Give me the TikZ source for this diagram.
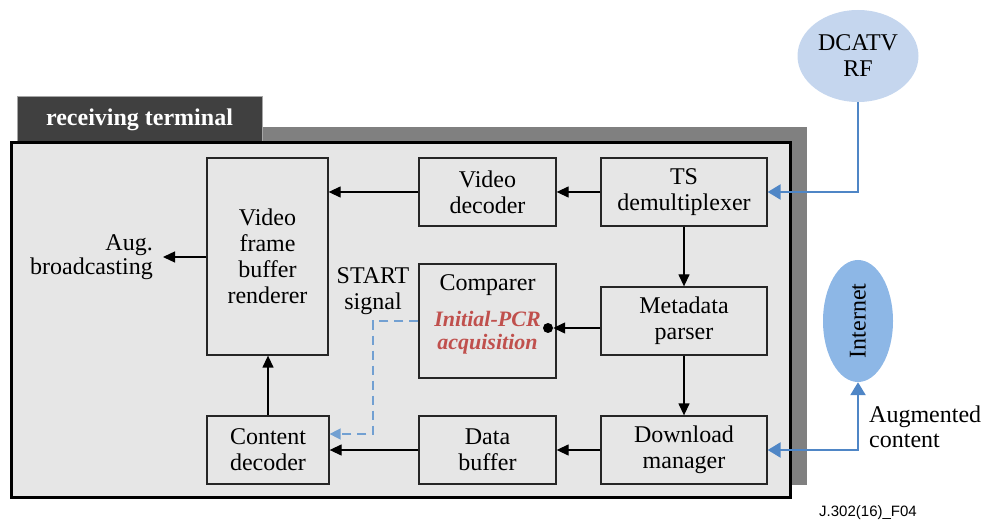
\documentclass[tikz,border=0pt]{standalone}
\usepackage{fontspec}
\setmainfont{Liberation Serif}
\newfontfamily\labelsans{Liberation Sans}
\usetikzlibrary{arrows.meta,shapes.geometric,calc}
\definecolor{bgfill}{HTML}{E6E6E6}
\definecolor{shadowgray}{HTML}{808080}
\definecolor{tabgray}{HTML}{404040}
\definecolor{boxline}{HTML}{262626}
\definecolor{linkblue}{HTML}{4F86C6}
\definecolor{dashblue}{HTML}{72A0D2}
\definecolor{rfblue}{HTML}{C5D6EE}
\definecolor{netblue}{HTML}{8DB7E6}
\definecolor{pcrred}{HTML}{C0504D}
\begin{document}
\begin{tikzpicture}[x=1pt,y=-1pt,
  txt/.style={font=\fontsize{24}{26}\selectfont, align=center, inner sep=0pt},
  blk/.style={txt, draw=boxline, line width=1.3pt, fill=bgfill},
  arr/.style={draw=black, line width=1.3pt, -{Triangle[length=12pt,width=11pt]}},
  barr/.style={draw=linkblue, line width=2.4pt, -{Triangle[length=13pt,width=15pt]}},
  dasharr/.style={draw=dashblue, line width=1.6pt, dash pattern=on 9pt off 6pt, -{Triangle[length=11pt,width=11pt]}}]
\useasboundingbox (0,0) rectangle (983,521);
% frame
\fill[shadowgray] (17,127) rectangle (807,485);
\node[fill=tabgray, draw=gray!70, line width=0.6pt, minimum width=245pt, minimum height=47pt, inner sep=0pt,
  text=white, font=\fontsize{24}{26}\selectfont\bfseries] (tab) at (139.5,119.5) {receiving terminal};
\draw[line width=3pt, fill=bgfill] (11,143) rectangle (790,497);
% boxes
\node[blk, minimum width=121pt, minimum height=197pt] (vfbr) at (267.5,256.5) {Video\\frame\\buffer\\renderer};
\node[blk, minimum width=137pt, minimum height=68pt] (vdec) at (487.5,192) {Video\\decoder};
\node[blk, minimum width=166pt, minimum height=68pt] (ts) at (684,192) {TS\\demultiplexer};
\node[blk, minimum width=137pt, minimum height=114pt] (comp) at (487.5,321) {};
\node[txt] (comptitle) at (487.5,285) {Comparer};
\node[txt, font=\fontsize{22}{23}\selectfont\bfseries\itshape, text=pcrred] (pcr) at (487.5,333) {Initial-PCR\\acquisition};
\node[blk, minimum width=166pt, minimum height=68pt] (meta) at (684,321) {Metadata\\parser};
\node[blk, minimum width=122pt, minimum height=68pt] (cdec) at (268,450) {Content\\decoder};
\node[blk, minimum width=137pt, minimum height=68pt] (dbuf) at (487.5,450) {Data\\buffer};
\node[blk, minimum width=166pt, minimum height=68pt] (dman) at (684,450) {Download\\manager};
% outside
\node[ellipse, fill=rfblue, minimum width=121pt, minimum height=92pt, inner sep=0pt, txt] (rf) at (858,56) {DCATV\\RF};
\node[ellipse, fill=netblue, minimum width=70pt, minimum height=122pt, inner sep=0pt] (inet) at (858,321) {};
\node[txt, rotate=90] (inettext) at (inet.center) {Internet};
\node[txt, anchor=east, align=right, font=\fontsize{24}{24}\selectfont] (aug) at (153,257) {Aug.\\broadcasting};
\node[txt] (start) at (373,291) {START\\signal};
\node[txt, anchor=west, align=left, font=\fontsize{24}{25}\selectfont] (augc) at (869,427) {Augmented\\content};
\node[font=\labelsans\fontsize{15}{17}\selectfont, inner sep=0pt] (fig) at (868,513) {J.302(16)\_F04};
% dot
\node[circle, fill=black, inner sep=0pt, minimum size=10pt] (dot) at (548,328) {};
% connectors
\draw[arr] (ts.west) -- (vdec.east);
\draw[arr] (vdec.west) -- (vdec.west -| vfbr.east);
\draw[arr] (ts.south) -- (meta.north);
\draw[arr] (meta.west |- dot) -- (dot.east);
\draw[arr] (meta.south) -- (dman.north);
\draw[arr] (dman.west) -- (dbuf.east);
\draw[arr] (dbuf.west) -- (cdec.east);
\draw[arr] (cdec.north) -- (cdec.north |- vfbr.south);
\draw[arr, shorten >=10pt] (vfbr.west |- aug.east) -- (aug.east);
\coordinate (dashcorner) at (373,434);
\draw[dasharr] (comp.west) -| (dashcorner) -- (cdec.east |- dashcorner);
\draw[barr] (rf.south) |- (ts.east);
\draw[barr, {Triangle[length=13pt,width=15pt]}-{Triangle[length=13pt,width=15pt]}] (dman.east) -| (inet.south);
\end{tikzpicture}
\end{document}
